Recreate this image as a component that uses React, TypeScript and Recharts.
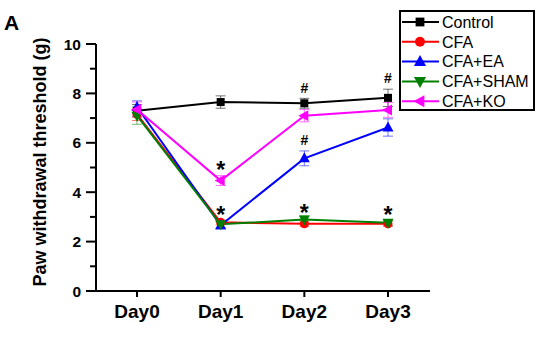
import React from 'react';
import { LineChart, Line, XAxis, YAxis, ErrorBar, Legend, ReferenceDot } from 'recharts';

const days = ['Day0', 'Day1', 'Day2', 'Day3'];
const control = [7.3, 7.65, 7.6, 7.82];
const controlErr = [0.25, 0.25, 0.2, 0.35];
const cfa = [7.15, 2.78, 2.72, 2.72];
const cfaErr = [0.25, 0.1, 0.1, 0.1];
const cfaEa = [7.45, 2.66, 5.37, 6.62];
const cfaEaErr = [0.25, 0.15, 0.3, 0.35];
const cfaSham = [7.1, 2.7, 2.89, 2.76];
const cfaShamErr = [0.35, 0.15, 0.15, 0.1];
const cfaKo = [7.35, 4.47, 7.1, 7.33];
const cfaKoErr = [0.3, 0.2, 0.25, 0.3];
const yTicks = [0, 1, 2, 3, 4, 5, 6, 7, 8, 9, 10];
const seriesNames = ['Control', 'CFA', 'CFA+EA', 'CFA+SHAM', 'CFA+KO'];
const annotations = [
  { day: 'Day1', y: 5.1, text: '*' },
  { day: 'Day1', y: 3.28, text: '*' },
  { day: 'Day2', y: 3.36, text: '*' },
  { day: 'Day3', y: 3.28, text: '*' },
  { day: 'Day2', y: 8.22, text: '#' },
  { day: 'Day3', y: 8.62, text: '#' },
  { day: 'Day2', y: 6.11, text: '#' },
];

const data = days.map((d, i) => ({
  day: d,
  control: control[i], controlErr: controlErr[i],
  cfa: cfa[i], cfaErr: cfaErr[i],
  cfaEa: cfaEa[i], cfaEaErr: cfaEaErr[i],
  cfaSham: cfaSham[i], cfaShamErr: cfaShamErr[i],
  cfaKo: cfaKo[i], cfaKoErr: cfaKoErr[i],
}));

const FONT = '"Liberation Sans", Arial, sans-serif';
const colors = ['#000000', '#ff0000', '#0000ff', '#008000', '#ff00ff'];

const marker = (kind: number, cx: number, cy: number, color: string, s = 1) => {
  switch (kind) {
    case 0:
      return <rect x={cx - 4 * s} y={cy - 4 * s} width={8 * s} height={8 * s} fill={color} />;
    case 1:
      return <circle cx={cx} cy={cy} r={4.5 * s} fill={color} />;
    case 2:
      return <polygon points={`${cx},${cy - 6 * s} ${cx - 5.5 * s},${cy + 4 * s} ${cx + 5.5 * s},${cy + 4 * s}`} fill={color} />;
    case 3:
      return <polygon points={`${cx},${cy + 6 * s} ${cx - 5.5 * s},${cy - 4 * s} ${cx + 5.5 * s},${cy - 4 * s}`} fill={color} />;
    default:
      return <polygon points={`${cx - 6 * s},${cy} ${cx + 4 * s},${cy - 5.5 * s} ${cx + 4 * s},${cy + 5.5 * s}`} fill={color} />;
  }
};

const makeDot = (kind: number) => (p: any) => (
  <g key={`d${kind}-${p.index}`}>{marker(kind, p.cx, p.cy, colors[kind])}</g>
);

const YTick = (p: any) => {
  const v = p.payload.value;
  const major = v % 2 === 0;
  return (
    <g>
      <line x1={p.x - (major ? 10 : 6)} x2={p.x} y1={p.y} y2={p.y} stroke="#000" strokeWidth={2} />
      {major && (
        <text x={p.x - 15} y={p.y + 5.6} textAnchor="end" fontFamily={FONT} fontWeight="bold" fontSize={15.5} fill="#000">
          {v}
        </text>
      )}
    </g>
  );
};

const XTick = (p: any) => (
  <g>
    <line x1={p.x} x2={p.x} y1={p.y} y2={p.y + 6} stroke="#000" strokeWidth={2} />
    <text x={p.x} y={p.y + 27} textAnchor="middle" fontFamily={FONT} fontWeight="bold" fontSize={19} fill="#000">
      {p.payload.value}
    </text>
  </g>
);

const LegendBox = () => (
  <svg width={136} height={101} style={{ display: 'block' }}>
    <rect x={1} y={1} width={134} height={99} fill="#fff" stroke="#000" strokeWidth={2} />
    {seriesNames.map((n, i) => {
      const y = 12 + i * 19.8;
      return (
        <g key={n}>
          <line x1={3} x2={40} y1={y} y2={y} stroke={colors[i]} strokeWidth={2} />
          {marker(i, 21, y, colors[i], 1.1)}
          <text x={43} y={y + 5.8} fontFamily={FONT} fontSize={16} fill="#000">{n}</text>
        </g>
      );
    })}
  </svg>
);

const AxisTitle = () => (
  <g>
    <text transform="translate(46,162) rotate(-90)" textAnchor="middle" fontFamily={FONT} fontWeight="bold" fontSize={18} fill="#000">
      Paw withdrawal threshold (g)
    </text>
    <text x={4} y={30} fontFamily={FONT} fontWeight="bold" fontSize={21} fill="#000">A</text>
  </g>
);

const keys = ['control', 'cfa', 'cfaEa', 'cfaSham', 'cfaKo'];

export default function App() {
  return (
    <div style={{ position: 'absolute', left: 0, top: 0, background: '#fff' }}>
      <LineChart width={550} height={341} data={data} margin={{ top: 44, right: 120, bottom: 20, left: 36 }}>
        <XAxis
          dataKey="day"
          height={30}
          padding={{ left: 41, right: 42 }}
          axisLine={{ stroke: '#000', strokeWidth: 2 }}
          tickLine={false}
          tickSize={0}
          tickMargin={0}
          tick={<XTick />}
          interval={0}
        />
        <YAxis
          width={60}
          domain={[0, 10]}
          ticks={yTicks}
          interval={0}
          axisLine={{ stroke: '#000', strokeWidth: 2 }}
          tickLine={false}
          tickSize={0}
          tickMargin={0}
          tick={<YTick />}
          label={{ content: () => <AxisTitle /> }}
        />
        {keys.map((k, i) => (
          <Line
            key={k}
            dataKey={k}
            stroke={colors[i]}
            strokeWidth={2}
            dot={makeDot(i)}
            activeDot={false}
            isAnimationActive={false}
          >
            <ErrorBar dataKey={`${k}Err`} width={5} stroke={colors[i]} strokeOpacity={0.55} strokeWidth={1} isAnimationActive={false} />
          </Line>
        ))}
        {annotations.map((a, i) => (
          <ReferenceDot
            key={`a${i}`}
            x={a.day}
            y={a.y}
            r={0}
            ifOverflow="visible"
            shape={(p: any) => (
              <text
                x={p.cx}
                y={a.text === '*' ? p.cy + 13 : p.cy + 5}
                textAnchor="middle"
                fontFamily={FONT}
                fontWeight="bold"
                fontSize={a.text === '*' ? 23 : 14}
                fill="#000"
              >
                {a.text}
              </text>
            )}
          />
        ))}
        <Legend
          layout="vertical"
          align="center"
          verticalAlign="middle"
          content={() => <LegendBox />}
          wrapperStyle={{ position: 'absolute', left: 399, top: 10, width: 136, height: 101 }}
        />
      </LineChart>
    </div>
  );
}
